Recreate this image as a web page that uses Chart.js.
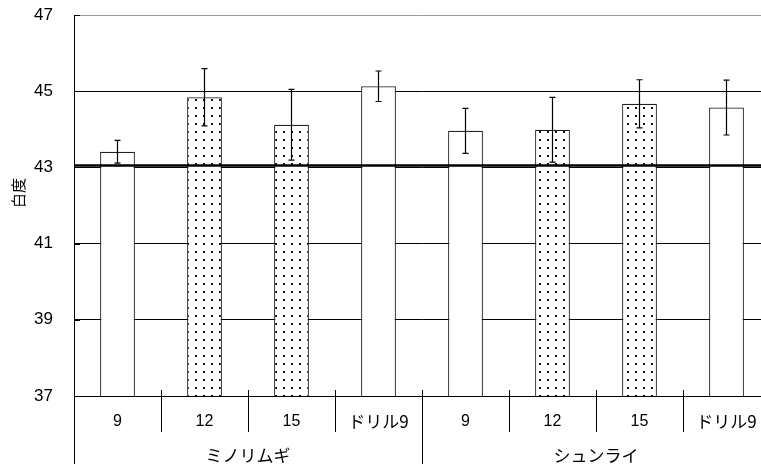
<!DOCTYPE html>
<html>
<head>
<meta charset="utf-8">
<script src="https://cdn.jsdelivr.net/npm/chart.js@4/dist/chart.umd.min.js"></script>
<style>
  html, body { margin: 0; padding: 0; background: #fff; overflow: hidden; }
  #wrap { width: 780px; height: 467px; position: relative; }
</style>
</head>
<body>
<div id="wrap"><canvas id="c"></canvas></div>
<script>
// Whiteness (白度) by sowing treatment for two wheat varieties
const categories = ['9', '12', '15', 'ドリル9', '9', '12', '15', 'ドリル9'];
const groups = ['ミノリムギ', 'シュンライ'];
const groupSize = 4;
const whiteness = [43.41, 44.84, 44.12, 45.13, 43.96, 43.99, 44.67, 44.57];
const errors = [0.30, 0.75, 0.93, 0.40, 0.59, 0.85, 0.63, 0.72];
const referenceLevel = 43.05;
const yTicks = [37, 39, 41, 43, 45, 47];

const numFont = '"Liberation Sans", Arial, sans-serif';
const jpFont = '"Noto Sans CJK JP", sans-serif';

// dotted fill used for the 12 and 15 treatments
function makeDots() {
  const p = document.createElement('canvas');
  p.width = 8; p.height = 8;
  const g = p.getContext('2d');
  g.fillStyle = '#fff';
  g.fillRect(0, 0, 8, 8);
  g.fillStyle = '#111';
  g.fillRect(3, 3, 2, 2);
  return g.createPattern(p, 'repeat');
}
const dots = makeDots();

const extras = {
  id: 'extras',
  afterDatasetsDraw(chart) {
    const { ctx, chartArea } = chart;
    const x = chart.scales.x, y = chart.scales.y;
    ctx.save();
    // error bars
    ctx.strokeStyle = '#000';
    ctx.lineWidth = 1.2;
    whiteness.forEach((v, i) => {
      const cx = x.getPixelForValue(i);
      const yt = y.getPixelForValue(v + errors[i]);
      const yb = y.getPixelForValue(v - errors[i]);
      ctx.beginPath();
      ctx.moveTo(cx, yt); ctx.lineTo(cx, yb);
      ctx.moveTo(cx - 3, yt); ctx.lineTo(cx + 3, yt);
      ctx.moveTo(cx - 3, yb); ctx.lineTo(cx + 3, yb);
      ctx.stroke();
    });
    // reference level line
    const ry = y.getPixelForValue(referenceLevel);
    ctx.lineWidth = 2.6;
    ctx.beginPath();
    ctx.moveTo(chartArea.left, ry);
    ctx.lineTo(chartArea.right, ry);
    ctx.stroke();
    ctx.restore();
  },
  afterDraw(chart) {
    const { ctx, chartArea } = chart;
    const x = chart.scales.x, y = chart.scales.y;
    const bottom = chartArea.bottom;
    const step = x.getPixelForValue(1) - x.getPixelForValue(0);
    ctx.save();
    ctx.strokeStyle = '#000';
    ctx.lineWidth = 1;
    // short inner tick marks on the value axis
    yTicks.forEach(v => {
      const ty = Math.round(y.getPixelForValue(v)) + 0.5;
      ctx.beginPath();
      ctx.moveTo(chartArea.left, ty);
      ctx.lineTo(chartArea.left + 6, ty);
      ctx.stroke();
    });
    // category separators
    for (let i = 0; i <= categories.length; i++) {
      const bx = Math.round(x.getPixelForValue(i) - step / 2) + 0.5;
      const isGroup = i % groupSize === 0;
      ctx.beginPath();
      ctx.moveTo(bx, isGroup && i === 0 ? chartArea.top : bottom - 6);
      ctx.lineTo(bx, isGroup ? bottom + 68 : bottom + 36);
      ctx.stroke();
    }
    // category labels
    ctx.fillStyle = '#000';
    ctx.textAlign = 'center';
    ctx.textBaseline = 'middle';
    categories.forEach((c, i) => {
      ctx.font = /^\d+$/.test(c) ? '16px ' + numFont : '17px ' + jpFont;
      ctx.fillText(c, x.getPixelForValue(i), bottom + 26);
    });
    ctx.font = '17px ' + jpFont;
    groups.forEach((gname, g) => {
      const gx = (x.getPixelForValue(g * groupSize) + x.getPixelForValue(g * groupSize + groupSize - 1)) / 2;
      ctx.fillText(gname, gx, bottom + 60);
    });
    // axis title
    ctx.translate(18, 193);
    ctx.rotate(-Math.PI / 2);
    ctx.font = '15px ' + jpFont;
    ctx.fillText('白度', 0, 0);
    ctx.restore();
  }
};

new Chart(document.getElementById('c'), {
  type: 'bar',
  data: {
    labels: categories,
    datasets: [{
      data: whiteness,
      backgroundColor: categories.map(c => (c === '12' || c === '15') ? dots : '#fff'),
      borderColor: '#222',
      borderWidth: 1.2,
      borderSkipped: false,
      barPercentage: 0.4,
      categoryPercentage: 1.0
    }]
  },
  options: {
    responsive: true,
    maintainAspectRatio: false,
    animation: false,
    layout: { padding: { top: 15, right: 10, bottom: 71, left: 0 } },
    plugins: { legend: { display: false }, tooltip: { enabled: false } },
    scales: {
      x: { display: false },
      y: {
        min: 37, max: 47,
        afterBuildTicks(scale) { scale.ticks = yTicks.map(v => ({ value: v })); },
        afterFit(scale) { scale.width = 74; },
        border: { display: true, color: '#000', width: 1 },
        grid: {
          drawTicks: true,
          tickLength: 21,
          tickColor: 'rgba(0,0,0,0)',
          color: ctx => ctx.tick && ctx.tick.value === 47 ? '#999' : '#000',
          lineWidth: 1
        },
        ticks: {
          padding: 0,
          color: '#000',
          font: { family: numFont, size: 17 }
        }
      }
    }
  },
  plugins: [extras]
});
</script>
</body>
</html>
